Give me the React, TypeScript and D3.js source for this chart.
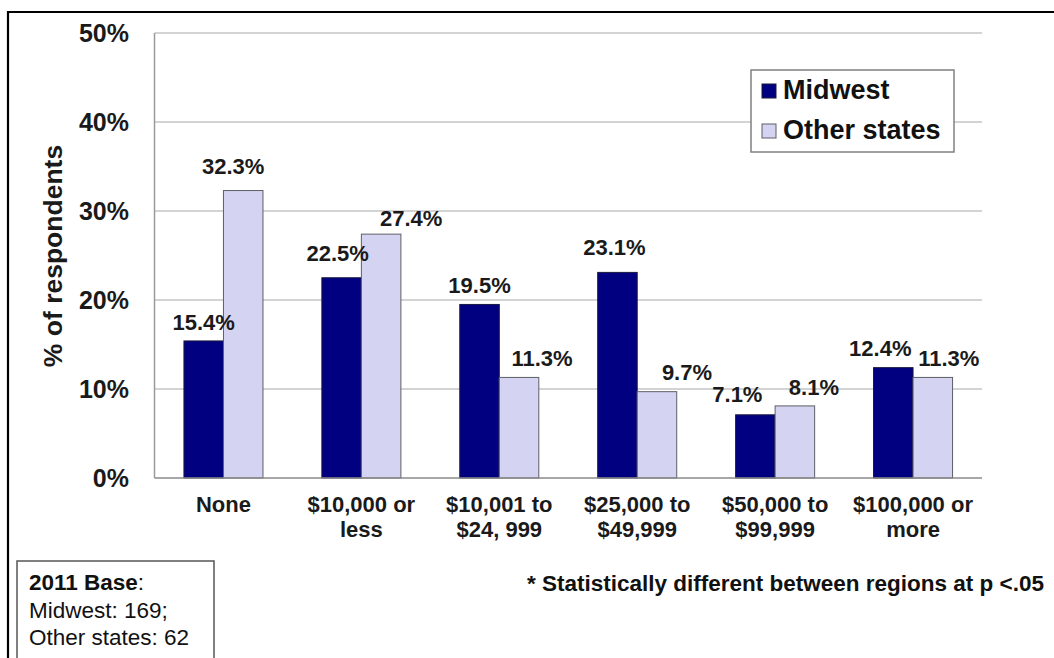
import * as d3 from 'd3'

const categories = [
  ['None'],
  ['$10,000 or', 'less'],
  ['$10,001 to', '$24, 999'],
  ['$25,000 to', '$49,999'],
  ['$50,000 to', '$99,999'],
  ['$100,000 or', 'more'],
]
const seriesNames = ['Midwest', 'Other states']
const midwest = [15.4, 22.5, 19.5, 23.1, 7.1, 12.4]
const otherStates = [32.3, 27.4, 11.3, 9.7, 8.1, 11.3]
const yTicks = [0, 10, 20, 30, 40, 50]

// hand-placed label nudges, like in the original slide
const labelDx = [
  [0, -4, 0, -3, -18, -13],
  [-10, 30, 23, 30, 19, 16],
]
const labelGap = [
  [11, 17, 11, 17, 13, 12],
  [17, 8, 11, 12, 11, 11],
]

const W = 1054
const H = 658
const FONT = "Arial, 'Liberation Sans', sans-serif"
const colors = ['#000080', '#d4d4f2']
const strokes = ['#1a1a40', '#5e5e66']

export default function App() {
  const left = 154.5
  const right = 982
  const top = 33
  const bottom = 478

  const keys = categories.map(c => c.join(' '))
  const x0 = d3.scaleBand().domain(keys).range([left, right]).paddingInner(0.427).paddingOuter(0.2135)
  const x1 = d3.scaleBand().domain(seriesNames).range([0, x0.bandwidth()])
  const y = d3.scaleLinear().domain([0, 50]).range([bottom, top])
  const series = [midwest, otherStates]

  return (
    <svg width={W} height={H} style={{ position: 'absolute', left: 0, top: 0, background: '#fff' }} fontFamily={FONT}>
      <rect x={0} y={0} width={W} height={H} fill="#fff" />
      {/* outer frame */}
      <path d={`M8,${H} L8,12 L${W},12`} fill="none" stroke="#000" strokeWidth={2.2} />

      {/* gridlines */}
      {yTicks.filter(t => t > 0).map(t => (
        <line key={t} x1={left} x2={right} y1={y(t)} y2={y(t)} stroke="#c4c4c4" strokeWidth={1.5} />
      ))}
      <line x1={left} x2={left} y1={top} y2={bottom} stroke="#9a9a9a" strokeWidth={1.5} />

      {/* y tick labels */}
      {yTicks.map(t => (
        <text key={t} x={129} y={y(t)} dy="0.36em" textAnchor="end" fontSize={25} fontWeight="bold" fill="#1a1a1a">
          {t + '%'}
        </text>
      ))}
      <text transform={`translate(62,256) rotate(-90)`} textAnchor="middle" fontSize={26.5} fontWeight="bold" fill="#1a1a1a">
        % of respondents
      </text>

      {/* bars */}
      {series.map((vals, s) =>
        vals.map((v, i) => (
          <rect
            key={s + '-' + i}
            x={x0(keys[i])! + x1(seriesNames[s])!}
            y={y(v)}
            width={x1.bandwidth()}
            height={bottom - y(v)}
            fill={colors[s]}
            stroke={strokes[s]}
            strokeWidth={1}
          />
        ))
      )}
      <line x1={left} x2={right} y1={bottom} y2={bottom} stroke="#8a8a8a" strokeWidth={1.5} />

      {/* value labels */}
      {series.map((vals, s) =>
        vals.map((v, i) => (
          <text
            key={'l' + s + '-' + i}
            x={x0(keys[i])! + x1(seriesNames[s])! + x1.bandwidth() / 2 + labelDx[s][i]}
            y={y(v) - labelGap[s][i]}
            textAnchor="middle"
            fontSize={22}
            fontWeight="bold"
            fill="#1a1a1a"
          >
            {v.toFixed(1) + '%'}
          </text>
        ))
      )}

      {/* category labels */}
      {categories.map((lines, i) => (
        <text key={'c' + i} x={x0(keys[i])! + x0.bandwidth() / 2} y={512} textAnchor="middle" fontSize={22} fontWeight="bold" fill="#1a1a1a">
          {lines.map((ln, j) => (
            <tspan key={j} x={x0(keys[i])! + x0.bandwidth() / 2} dy={j === 0 ? 0 : 25}>{ln}</tspan>
          ))}
        </text>
      ))}

      {/* legend */}
      <rect x={751} y={70} width={203} height={82} fill="#fff" stroke="#808080" strokeWidth={1.5} />
      {seriesNames.map((n, s) => (
        <g key={n} transform={`translate(762,${84 + s * 40})`}>
          <rect x={0} y={0} width={14} height={14} fill={colors[s]} stroke={strokes[s]} strokeWidth={1} />
          <text x={21} y={15} fontSize={27} fontWeight="bold" fill="#111">{n}</text>
        </g>
      ))}

      {/* base note */}
      <rect x={17} y={561} width={197} height={110} fill="#fff" stroke="#555" strokeWidth={1.5} />
      <text x={29} y={590} fontSize={22.5} fill="#111">
        <tspan fontWeight="bold">2011 Base</tspan>:
      </text>
      <text x={29} y={618} fontSize={22.5} fill="#111">Midwest: 169;</text>
      <text x={29} y={645} fontSize={22.5} fill="#111">Other states: 62</text>

      <text x={1044} y={591} textAnchor="end" fontSize={22.5} fontWeight="bold" fill="#111">
        * Statistically different between regions at p &lt;.05
      </text>
    </svg>
  )
}
